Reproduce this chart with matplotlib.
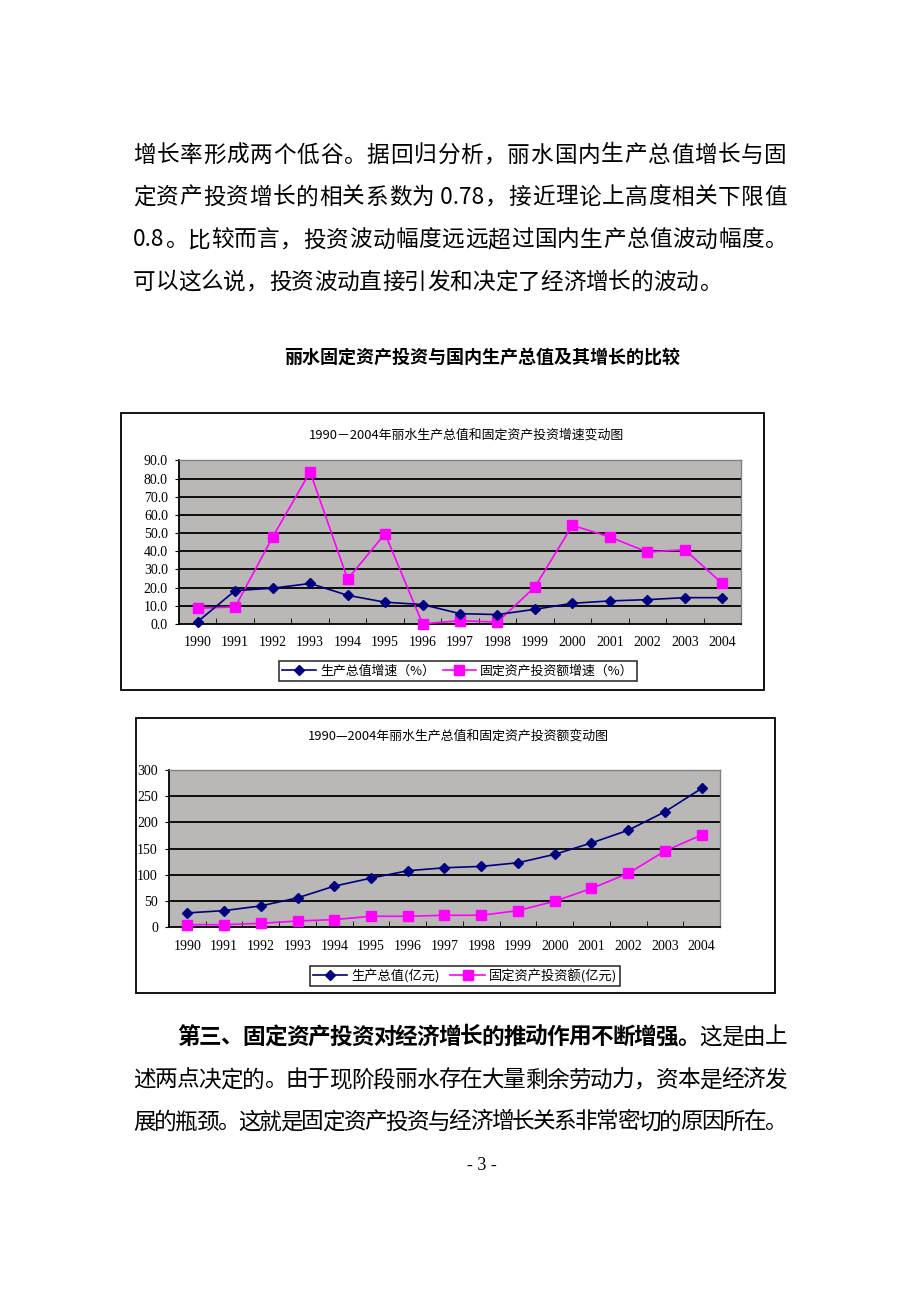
import matplotlib
matplotlib.use("Agg")
import matplotlib.pyplot as plt
from matplotlib.patches import Rectangle
from matplotlib.lines import Line2D

plt.rcParams['font.family'] = ['Noto Sans CJK SC', 'DejaVu Sans']

# ---------------- data ----------------
years = ['1990', '1991', '1992', '1993', '1994', '1995', '1996', '1997',
         '1998', '1999', '2000', '2001', '2002', '2003', '2004']

gdp_growth = [1.3, 18.4, 19.7, 22.3, 15.8, 12.0, 10.7, 5.7, 5.2, 8.1,
              11.4, 12.7, 13.4, 14.5, 14.5]
inv_growth = [8.7, 9.4, 47.9, 83.7, 24.7, 49.7, 0.1, 1.8, 1.1, 20.4,
              54.3, 47.9, 39.6, 40.9, 22.3]

gdp_value = [26.9, 31.3, 40.3, 55.7, 78.1, 93.4, 107.5, 113.2, 115.8, 122.8,
             138.8, 160.6, 184.9, 220.1, 264.9]
inv_value = [4.5, 4.5, 7.0, 11.5, 14.1, 20.5, 20.5, 22.4, 22.4, 31.3,
             49.3, 73.6, 102.4, 145.2, 175.9]

ticks1 = [0, 10, 20, 30, 40, 50, 60, 70, 80, 90]
ticks2 = [0, 50, 100, 150, 200, 250, 300]

title1 = '1990－2004年丽水生产总值和固定资产投资增速变动图'
title2 = '1990—2004年丽水生产总值和固定资产投资额变动图'
leg1 = ['生产总值增速（%）', '固定资产投资额增速（%）']
leg2 = ['生产总值(亿元)', '固定资产投资额(亿元)']

para1 = ['增长率形成两个低谷。据回归分析，丽水国内生产总值增长与固',
         '定资产投资增长的相关系数为 0.78，接近理论上高度相关下限值',
         '0.8。比较而言，投资波动幅度远远超过国内生产总值波动幅度。',
         '可以这么说，投资波动直接引发和决定了经济增长的波动。']
heading = '丽水固定资产投资与国内生产总值及其增长的比较'
para2_bold = '第三、固定资产投资对经济增长的推动作用不断增强。'
para2_rest = '这是由上'
para2 = ['述两点决定的。由于现阶段丽水存在大量剩余劳动力，资本是经济发',
         '展的瓶颈。这就是固定资产投资与经济增长关系非常密切的原因所在。']
page_no = '- 3 -'

# ---------------- figure ----------------
W, H = 920, 1302
fig = plt.figure(figsize=(W / 100, H / 100), dpi=100)
fig.patch.set_facecolor('white')
renderer = fig.canvas.get_renderer()


def fx(x):
    return x / W


def fy(y):
    return 1 - y / H


TEXT_FS = 16.3
body_font = ['Noto Sans CJK SC', 'DejaVu Sans']


def tokens_of(s, weight):
    toks = []
    buf = ''
    for ch in s:
        if ord(ch) < 128:
            buf += ch
        else:
            if buf:
                toks.append((buf, weight))
                buf = ''
            toks.append((ch, weight))
    if buf:
        toks.append((buf, weight))
    return toks


def measure(tok, weight):
    t = fig.text(0, 0, tok.replace(' ', '\u00a0'), fontsize=TEXT_FS,
                 fontweight=weight, family=body_font)
    w = t.get_window_extent(renderer=renderer).width
    t.remove()
    return w


def justify(parts, x0, x1, y, justify_line=True):
    toks = []
    for s, wgt in parts:
        toks += tokens_of(s, wgt)
    widths = [measure(t, w) for t, w in toks]
    total = sum(widths)
    if justify_line and len(toks) > 1:
        gap = (x1 - x0 - total) / (len(toks) - 1)
    else:
        gap = 0.0
    x = x0
    for (t, w), wd in zip(toks, widths):
        fig.text(fx(x), fy(y), t.replace(' ', '\u00a0'), fontsize=TEXT_FS,
                 fontweight=w, family=body_font,
                 va='center', ha='left', color='black')
        x += wd + gap


# paragraph 1
line_y = [155, 197, 240, 282]
for i, (t, y) in enumerate(zip(para1, line_y)):
    justify([(t, 'normal')], 133, 787, y, justify_line=(i < 3))

fig.text(fx(482), fy(357), heading, fontsize=13, fontweight='bold',
         ha='center', va='center', family=body_font)

# paragraph 2
justify([(para2_bold, 'bold'), (para2_rest, 'normal')], 177, 787, 1037)
for t, y in zip(para2, [1080, 1122]):
    justify([(t, 'normal')], 133, 787, y)
fig.text(fx(482), fy(1165), page_no, fontsize=13, ha='center', va='center',
         family=['Liberation Serif'])

# ---------------- chart boxes ----------------
for (x0, y0, x1, y1) in [(121, 413, 764, 690), (136, 718, 775, 993)]:
    fig.patches.append(Rectangle((fx(x0), fy(y1)), fx(x1) - fx(x0), fy(y0) - fy(y1),
                                 transform=fig.transFigure, fill=False,
                                 edgecolor='black', linewidth=1.3))

BG = '#b9b8b6'
NAVY = '#000080'
MAG = '#ff00ff'
serif = ['Liberation Serif', 'DejaVu Serif']


def style_axes(ax, yticks, ylabels):
    ax.set_facecolor(BG)
    ax.set_xlim(-0.5, len(years) - 0.5)
    ax.set_ylim(yticks[0], yticks[-1])
    ax.set_yticks(yticks)
    ax.set_yticklabels(ylabels, family=serif, fontsize=10)
    ax.set_xticks(range(len(years)))
    ax.set_xticklabels(years, family=serif, fontsize=10)
    ax.tick_params(axis='x', length=0, pad=9)
    ax.tick_params(axis='y', length=3, direction='out', pad=5)
    ax.set_xticks([i + 0.5 for i in range(len(years) - 1)], minor=True)
    ax.tick_params(axis='x', which='minor', length=4, direction='in', color='black')
    for yv in yticks[1:-1]:
        ax.axhline(yv, color='black', linewidth=1.3, zorder=1)
    for s in ['top', 'right']:
        ax.spines[s].set_color('#808080')
        ax.spines[s].set_linewidth(1.0)
    for s in ['left', 'bottom']:
        ax.spines[s].set_color('black')
        ax.spines[s].set_linewidth(1.3)


x = list(range(len(years)))

# ---------------- chart 1 ----------------
ax1 = fig.add_axes([fx(179), fy(624), fx(741) - fx(179), fy(460.5) - fy(624)])
style_axes(ax1, ticks1, ['%.1f' % v for v in ticks1])
ax1.plot(x, inv_growth, color=MAG, linewidth=1.2, marker='s', markersize=7,
         markeredgecolor=MAG, zorder=3, clip_on=False)
ax1.plot(x, gdp_growth, color=NAVY, linewidth=1.2, marker='D', markersize=5,
         markeredgecolor=NAVY, zorder=4, clip_on=False)
fig.text(fx(466), fy(435), title1, fontsize=9.3, ha='center', va='center',
         family=body_font)

h1 = [Line2D([], [], color=NAVY, marker='D', markersize=5, linewidth=1.2),
      Line2D([], [], color=MAG, marker='s', markersize=7, linewidth=1.2)]
lg1 = fig.legend(h1, leg1, loc='center', bbox_to_anchor=(fx(458), fy(671)),
                 ncol=2, frameon=True, fancybox=False,
                 handlelength=2.6, columnspacing=0.6, handletextpad=0.3,
                 borderpad=0.25, prop={'family': body_font, 'size': 9.3})
lg1.get_frame().set_edgecolor('black')
lg1.get_frame().set_linewidth(1.2)

# ---------------- chart 2 ----------------
ax2 = fig.add_axes([fx(169), fy(927), fx(720) - fx(169), fy(770) - fy(927)])
style_axes(ax2, ticks2, [str(v) for v in ticks2])
ax2.plot(x, gdp_value, color=NAVY, linewidth=1.2, marker='D', markersize=5,
         markeredgecolor=NAVY, zorder=4, clip_on=False)
ax2.plot(x, inv_value, color=MAG, linewidth=1.2, marker='s', markersize=7,
         markeredgecolor=MAG, zorder=3, clip_on=False)
fig.text(fx(458), fy(736), title2, fontsize=9.3, ha='center', va='center',
         family=body_font)

h2 = [Line2D([], [], color=NAVY, marker='D', markersize=5, linewidth=1.2),
      Line2D([], [], color=MAG, marker='s', markersize=7, linewidth=1.2)]
lg2 = fig.legend(h2, leg2, loc='center', bbox_to_anchor=(fx(465), fy(976)),
                 ncol=2, frameon=True, fancybox=False,
                 handlelength=2.6, columnspacing=0.8, handletextpad=0.3,
                 borderpad=0.25, prop={'family': body_font, 'size': 9.5})
lg2.get_frame().set_edgecolor('black')
lg2.get_frame().set_linewidth(1.2)

fig.savefig('out.png', dpi=100, facecolor='white')
